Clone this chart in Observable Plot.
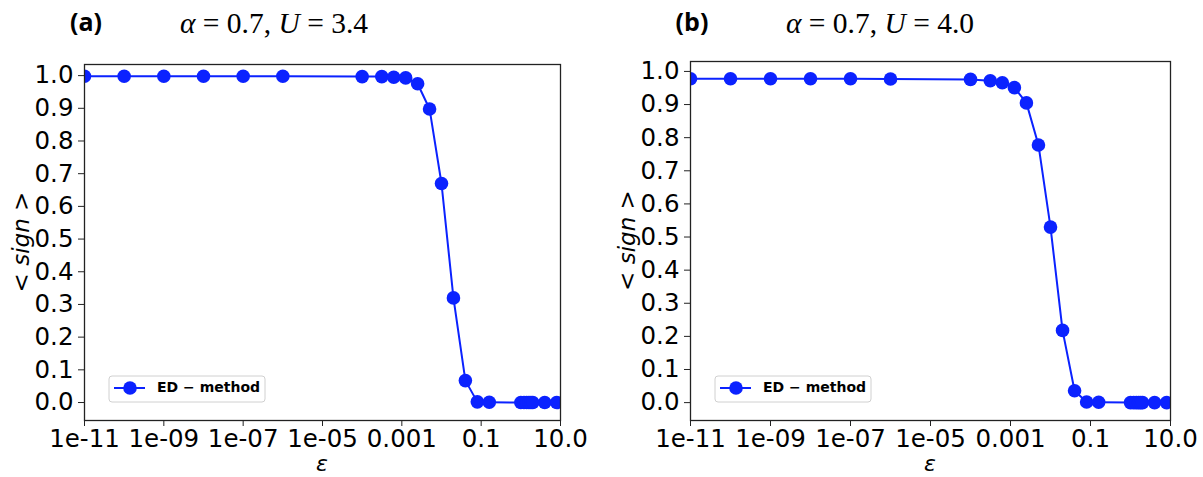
<!DOCTYPE html>
<html>
<head>
<meta charset="utf-8">
<script src="https://cdn.jsdelivr.net/npm/d3@7"></script>
<script src="https://cdn.jsdelivr.net/npm/@observablehq/plot@0.6"></script>
<style>
  html, body { margin: 0; padding: 0; background: white; }
  #wrap { position: relative; width: 1203px; height: 477px; overflow: hidden; background: white; }
  .panel { position: absolute; top: 0; }
</style>
</head>
<body>
<div id="wrap">
  <div class="panel" id="pa" style="left:0px"></div>
  <div class="panel" id="pb" style="left:600px"></div>
</div>
<script>
// ---- data ----
const epsilon = [1e-11, 1e-10, 1e-9, 1e-8, 1e-7, 1e-6, 1e-4, 0.0003125, 0.000625, 0.00125, 0.0025, 0.005, 0.01, 0.02, 0.04, 0.08, 0.16, 1, 1.2, 1.4, 1.6, 1.8, 2, 4, 8];
const signA = [0.998, 0.998, 0.998, 0.998, 0.998, 0.998, 0.997, 0.997, 0.995, 0.993, 0.975, 0.898, 0.670, 0.320, 0.067, 0.002, 0.001, 0, 0, 0, 0, 0, 0, 0, 0];
const signB = [0.978, 0.978, 0.978, 0.978, 0.978, 0.977, 0.976, 0.972, 0.966, 0.951, 0.905, 0.778, 0.530, 0.218, 0.036, 0.002, 0.001, 0, 0, 0, 0, 0, 0, 0, 0];
const xTicks = [1e-11, 1e-9, 1e-7, 1e-5, 1e-3, 0.1, 10];
const xTickLabels = ["1e-11", "1e-09", "1e-07", "1e-05", "0.001", "0.1", "10.0"];
const yTicks = [0, 0.1, 0.2, 0.3, 0.4, 0.5, 0.6, 0.7, 0.8, 0.9, 1.0];
const seriesName = "ED \u2212 method";
const panels = [
  {id: "pa", letter: "(a)", U: "3.4", sign: signA, width: 600, marginLeft: 84, marginRight: 40, marginTop: 64, yDomain: [-0.055, 1.034]},
  {id: "pb", letter: "(b)", U: "4.0", sign: signB, width: 603, marginLeft: 90, marginRight: 33, marginTop: 61, yDomain: [-0.054, 1.030]}
];

const blue = "#0b22ff";
const labelMap = new Map(xTicks.map((t, i) => [t, xTickLabels[i]]));
const tickFont = 24.5;

for (const p of panels) {
  const data = epsilon.map((e, i) => ({eps: e, sign: p.sign[i]}));
  const height = 477, marginBottom = 57;
  const chart = Plot.plot({
    width: p.width, height,
    marginLeft: p.marginLeft, marginRight: p.marginRight, marginTop: p.marginTop, marginBottom,
    style: {fontFamily: "DejaVu Sans", fontSize: tickFont + "px", color: "#000", background: "white", overflow: "visible"},
    x: {type: "log", domain: [1e-11, 10]},
    y: {domain: p.yDomain},
    marks: [
      Plot.line(data, {x: "eps", y: "sign", stroke: blue, strokeWidth: 2, clip: true}),
      Plot.dot(data, {x: "eps", y: "sign", r: 6.8, fill: blue, stroke: "none", clip: true}),
      Plot.frame({stroke: "#222", strokeWidth: 1.3}),
      Plot.axisX({ticks: xTicks, tickFormat: d => labelMap.get(d), tickSize: 6, tickPadding: 3, label: null, stroke: "#222", fontSize: tickFont}),
      Plot.axisY({ticks: yTicks, tickFormat: d3.format(".1f"), tickSize: 6, tickPadding: 5, label: null, stroke: "#222", fontSize: tickFont})
    ]
  });
  document.getElementById(p.id).appendChild(chart);

  const svg = d3.select(chart);
  const fl = p.marginLeft, fr = p.width - p.marginRight, ft = p.marginTop, fb = height - marginBottom;
  const fcx = (fl + fr) / 2, fcy = (ft + fb) / 2;

  // panel letter
  svg.append("text").attr("x", fl + 2).attr("y", 31).attr("text-anchor", "middle")
    .attr("font-family", "Open Sans").attr("font-weight", 700).attr("font-size", 25).attr("fill", "#000")
    .text(p.letter);
  // title with math italics
  const t = svg.append("text").attr("x", fl + 190).attr("y", 33).attr("text-anchor", "middle")
    .attr("font-family", "Liberation Serif").attr("font-size", 29.5).attr("fill", "#000");
  t.append("tspan").attr("font-style", "italic").text("\u03B1");
  t.append("tspan").text(" = 0.7, ");
  t.append("tspan").attr("font-style", "italic").text("U");
  t.append("tspan").text(" = " + p.U);

  // y label
  const yl = svg.append("text").attr("transform", `translate(${fl - 62},${fcy}) rotate(-90)`)
    .attr("text-anchor", "middle").attr("dominant-baseline", "middle")
    .attr("font-family", "DejaVu Sans").attr("font-size", 23).attr("fill", "#000");
  yl.append("tspan").text("< ");
  yl.append("tspan").attr("font-style", "italic").text("sign");
  yl.append("tspan").text(" >");

  // x label
  svg.append("text").attr("x", fcx).attr("y", fb + 45).attr("text-anchor", "middle").attr("dominant-baseline", "middle")
    .attr("font-family", "DejaVu Sans").attr("font-style", "italic").attr("font-size", 22).attr("fill", "#000")
    .text("\u03B5");

  // legend
  const lx = fl + 25, ly = 376;
  const g = svg.append("g");
  g.append("rect").attr("x", lx).attr("y", ly).attr("width", 156).attr("height", 26).attr("rx", 3)
    .attr("fill", "white").attr("fill-opacity", 0.8).attr("stroke", "#d0d0d0").attr("stroke-width", 1);
  g.append("line").attr("x1", lx + 5).attr("x2", lx + 36).attr("y1", ly + 12).attr("y2", ly + 12)
    .attr("stroke", blue).attr("stroke-width", 2);
  g.append("circle").attr("cx", lx + 21).attr("cy", ly + 12).attr("r", 6.8).attr("fill", blue);
  g.append("text").attr("x", lx + 48).attr("y", ly + 12).attr("text-anchor", "start").attr("dominant-baseline", "middle")
    .attr("font-family", "DejaVu Sans").attr("font-weight", 700).attr("font-size", 14).attr("fill", "#000")
    .text(seriesName);
}
</script>
</body>
</html>
